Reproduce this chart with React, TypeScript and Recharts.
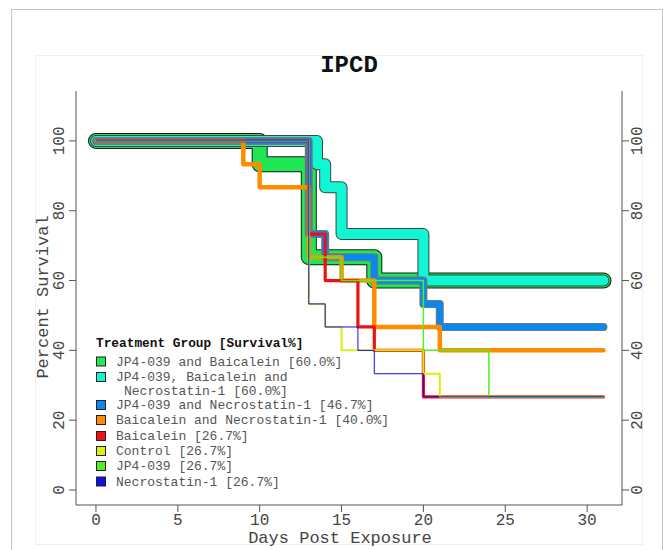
import { LineChart, Line, XAxis, YAxis } from "recharts";

// survival curves (Kaplan-Meier style), days vs percent surviving
const greenDays = [0, 10, 13, 17, 31];
const greenSurv = [100, 93.3, 66.7, 60, 60];
const cyanDays = [0, 13.5, 14, 15, 20, 31];
const cyanSurv = [100, 93.3, 86.7, 73.3, 60, 60];
const blueDays = [0, 13, 14, 17, 20, 21, 31];
const blueSurv = [100, 73.3, 66.7, 60, 53.3, 46.7, 46.7];
const orangeDays = [0, 9, 10, 13, 15, 17, 21, 31];
const orangeSurv = [100, 93.3, 86.7, 66.7, 60, 46.7, 40, 40];
const redDays = [0, 13, 14, 16, 17, 20, 31];
const redSurv = [100, 73.3, 60, 46.7, 40, 26.7, 26.7];
const controlDays = [0, 13, 14, 15, 20, 21, 31];
const controlSurv = [100, 53.3, 46.7, 40, 33.3, 26.7, 26.7];
const jpDays = [0, 13, 15, 20, 24, 31];
const jpSurv = [100, 66.7, 60, 40, 26.7, 26.7];
const necroDays = [0, 13, 14, 16, 17, 20, 31];
const necroSurv = [100, 53.3, 46.7, 40, 33.3, 26.7, 26.7];

const groupNames = [
    "JP4-039 and Baicalein [60.0%]",
    "JP4-039, Baicalein and",
    "JP4-039 and Necrostatin-1 [46.7%]",
    "Baicalein and Necrostatin-1 [40.0%]",
    "Baicalein [26.7%]",
    "Control [26.7%]",
    "JP4-039 [26.7%]",
    "Necrostatin-1 [26.7%]",
];
const xTicks = [0, 5, 10, 15, 20, 25, 30];
const yTicks = [0, 20, 40, 60, 80, 100];

const toPts = (d: number[], s: number[]) => d.map((t, i) => ({ t, s: s[i] }));

const series = [
    { name: groupNames[0], data: toPts(greenDays, greenSurv), color: "#1ee854", w: 14, outline: "#1a1a1a" },
    { name: groupNames[1], data: toPts(cyanDays, cyanSurv), color: "#10f7d4", w: 10, outline: "#444" },
    { name: groupNames[2], data: toPts(blueDays, blueSurv), color: "#0a88f2", w: 6, outline: "#777" },
    { name: groupNames[3], data: toPts(orangeDays, orangeSurv), color: "#ff8c00", w: 4.5 },
    { name: groupNames[4], data: toPts(redDays, redSurv), color: "#f01010", w: 3.2 },
    { name: groupNames[5], data: toPts(controlDays, controlSurv), color: "#dcee10", w: 2 },
    { name: groupNames[6], data: toPts(jpDays, jpSurv), color: "#55ee22", w: 1.5 },
    { name: groupNames[7], data: toPts(necroDays, necroSurv), color: "#1010e6", w: 1 },
];

const FONT = "'Liberation Mono', 'DejaVu Sans Mono', monospace";

const LeftTick = ({ x, y, payload }: any) => (
    <text x={x - 2.5} y={y} transform={`rotate(-90, ${x - 2.5}, ${y})`} textAnchor="middle"
        fontFamily={FONT} fontSize={16} fill="#444">{payload.value}</text>
);
const RightTick = ({ x, y, payload }: any) => (
    <text x={x + 11} y={y} transform={`rotate(-90, ${x + 11}, ${y})`} textAnchor="middle"
        fontFamily={FONT} fontSize={16} fill="#444">{payload.value}</text>
);

export default function App() {
    return (
        <div style={{ position: "absolute", left: 0, top: 0, width: 663, height: 550, background: "#fff" }}>
            {/* frames */}
            <div style={{ position: "absolute", left: 11, top: 9, width: 650, height: 560, border: "1.5px solid #c4c4c4" }} />
            <div style={{ position: "absolute", left: 35, top: 55, width: 606, height: 488, border: "1px solid #f0f0f0" }} />
            <LineChart width={663} height={550} data={series[0].data}
                margin={{ top: 91, right: 6, left: 26, bottom: 0 }}
                style={{ position: "absolute", left: 0, top: 0 }}>
                <XAxis xAxisId="top" orientation="top" dataKey="t" type="number" domain={[-1.22, 32.13]}
                    tick={false} tickLine={false} height={0} stroke="#555" />
                <XAxis dataKey="t" type="number" domain={[-1.22, 32.13]} ticks={xTicks} height={45}
                    stroke="#555" tickSize={7} tickMargin={2} allowDataOverflow
                    tick={{ fontFamily: FONT, fontSize: 16, fill: "#444" }} />
                <YAxis yAxisId="left" type="number" domain={[-4.3, 114.3]} ticks={yTicks} width={50}
                    stroke="#555" tickSize={7} tick={<LeftTick />} allowDataOverflow />
                <YAxis yAxisId="right" orientation="right" type="number" domain={[-4.3, 114.3]} ticks={yTicks}
                    width={35} stroke="#555" tickSize={7} tick={<RightTick />} allowDataOverflow />
                {series.flatMap((s, i) => {
                    const lines = [];
                    if (s.outline) {
                        lines.push(
                            <Line key={`o${i}`} yAxisId="left" data={s.data} dataKey="s" type="stepAfter"
                                stroke={s.outline} strokeWidth={s.w + 2} dot={false} isAnimationActive={false}
                                strokeLinecap="round" strokeLinejoin="round" />
                        );
                    }
                    lines.push(
                        <Line key={`l${i}`} yAxisId="left" data={s.data} dataKey="s" type="stepAfter"
                            stroke={s.color} strokeWidth={s.w} dot={false} isAnimationActive={false}
                            strokeLinecap="round" strokeLinejoin="round" />
                    );
                    return lines;
                })}
            </LineChart>
            <svg width={663} height={550} style={{ position: "absolute", left: 0, top: 0, pointerEvents: "none" }}>
                <text x={349} y={72} textAnchor="middle" fontFamily={FONT} fontSize={24} fontWeight="bold" fill="#111">IPCD</text>
                <text x={340} y={543} textAnchor="middle" fontFamily={FONT} fontSize={17} fill="#444">Days Post Exposure</text>
                <text x={48} y={297} transform="rotate(-90, 48, 297)" textAnchor="middle" fontFamily={FONT} fontSize={17} fill="#444">Percent Survival</text>
                <text x={96} y={347} fontFamily={FONT} fontSize={12.8} fontWeight="bold" fill="#111">Treatment Group [Survival%]</text>
                {series.map((s, i) => {
                    const rowY = [361.5, 377, 405, 420, 436, 451, 466, 481.5][i];
                    return (
                        <g key={i}>
                            <rect x={96.5} y={rowY - 4.5} width={9} height={9} fill={s.color} stroke="#222" strokeWidth={1} />
                            <text x={116} y={rowY + 4} fontFamily={FONT} fontSize={13} fill="#555">{s.name}</text>
                            {i === 1 && (
                                <text x={124} y={rowY + 17.5} fontFamily={FONT} fontSize={13} fill="#555">Necrostatin-1 [60.0%]</text>
                            )}
                        </g>
                    );
                })}
            </svg>
        </div>
    );
}
